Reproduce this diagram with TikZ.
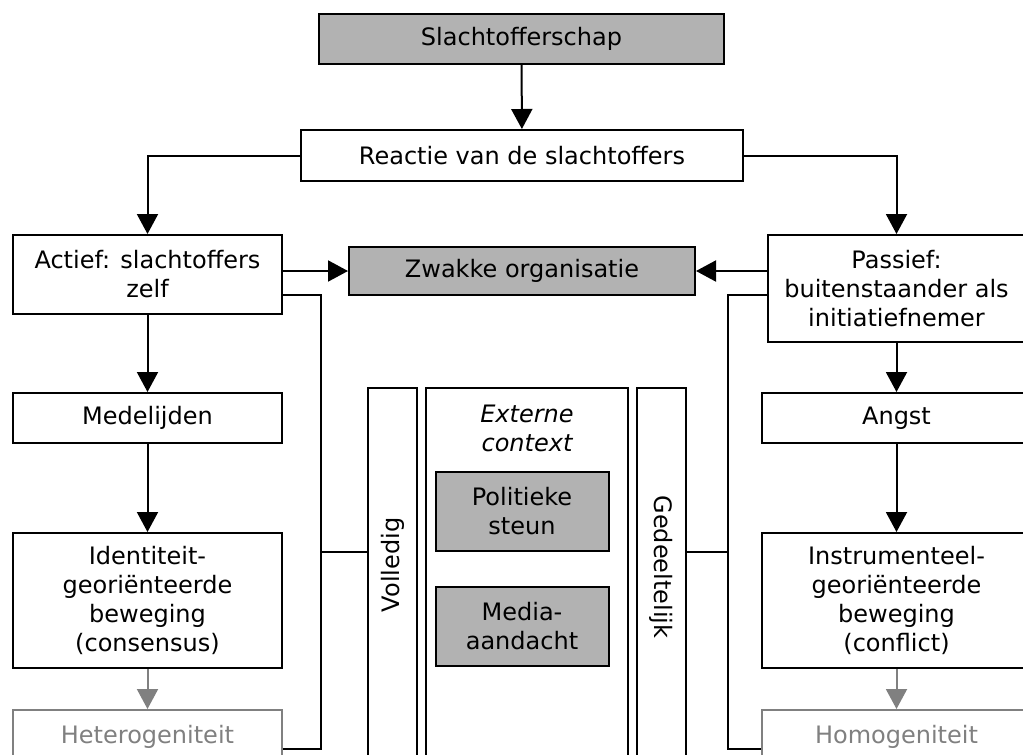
\documentclass[tikz,border=0pt]{standalone}
\usepackage{fontspec}
\setmainfont{DejaVu Sans}
\usetikzlibrary{arrows.meta}
\definecolor{fillgray}{HTML}{B2B2B2}
\definecolor{softgray}{HTML}{808080}
\tikzset{
  mybox/.style={draw, line width=2pt, inner sep=0pt, align=center, font=\fontsize{24}{29}\selectfont},
  shaded/.style={mybox, fill=fillgray},
  faded/.style={mybox, draw=softgray, text=softgray},
  lbl/.style={inner sep=0pt, align=center, font=\fontsize{24}{29}\selectfont},
  arr/.style={line width=2pt, -{Triangle[length=20pt,width=21pt]}},
  bus/.style={line width=2pt},
}
\begin{document}
\begin{tikzpicture}[x=1pt,y=-1pt]
\useasboundingbox (0,0) rectangle (1023,755);
\clip (0,0) rectangle (1023,755);
\fill[white] (0,0) rectangle (1023,755);

% top
\node[shaded, minimum width=405pt, minimum height=50pt] (slacht) at (521.5,39) {Slachtofferschap};
\node[mybox, minimum width=442pt, minimum height=51pt] (reactie) at (522,155.5) {Reactie van de slachtoffers};

% left column
\node[mybox, minimum width=269pt, minimum height=79pt] (actief) at (147.5,274.5) {Actief: slachtoffers\\zelf};
\node[mybox, minimum width=269pt, minimum height=50pt] (medel) at (147.5,418) {Medelijden};
\node[mybox, minimum width=269pt, minimum height=135pt] (ident) at (147.5,600.5) {Identiteit-\\georiënteerde\\beweging\\(consensus)};
\node[faded, minimum width=269pt, minimum height=54pt] (hetero) at (147.5,737) {Heterogeniteit};

% right column
\node[mybox, minimum width=258pt, minimum height=107pt] (passief) at (896.5,288.5) {Passief:\\buitenstaander als\\initiatiefnemer};
\node[mybox, minimum width=269pt, minimum height=50pt] (angst) at (896.5,418) {Angst};
\node[mybox, minimum width=269pt, minimum height=135pt] (instr) at (896.5,600.5) {Instrumenteel-\\georiënteerde\\beweging\\(conflict)};
\node[faded, minimum width=269pt, minimum height=54pt] (homo) at (896.5,737) {Homogeniteit};

% centre
\node[shaded, minimum width=346pt, minimum height=48pt] (zwakke) at (522,271) {Zwakke organisatie};
\node[mybox, minimum width=49pt, minimum height=372pt] (volledig) at (392.5,574) {};
\node[mybox, minimum width=202pt, minimum height=372pt] (externe) at (527,574) {};
\node[mybox, minimum width=49pt, minimum height=372pt] (gedeel) at (661.5,574) {};
\node[lbl, rotate=90] (volltext) at (392.5,565) {Volledig};
\node[lbl, rotate=-90] (gedtext) at (661.5,567) {Gedeeltelijk};
\node[lbl, font=\fontsize{24}{29}\selectfont\itshape] (exttext) at (527,428) {Externe\\context};
\node[shaded, minimum width=173pt, minimum height=79pt] (politiek) at (522,511) {Politieke\\steun};
\node[shaded, minimum width=173pt, minimum height=79pt] (media) at (522,626) {Media-\\aandacht};

% connectors
\draw[arr] (slacht) -- (reactie);
\draw[arr] (reactie.west) -| (actief.north);
\draw[arr] (reactie.east) -| (passief.north);
\draw[arr] (actief.east |- zwakke.west) -- (zwakke.west);
\draw[arr] (passief.west |- zwakke.east) -- (zwakke.east);
\draw[arr] (actief) -- (medel);
\draw[arr] (medel) -- (ident);
\draw[arr, softgray] (ident) -- (hetero);
\draw[arr] (passief) -- (angst);
\draw[arr] (angst) -- (instr);
\draw[arr, softgray] (instr) -- (homo);

% side bus lines
\coordinate (ltop) at (320.5,295);
\coordinate (lmid) at (320.5,552);
\coordinate (lbot) at (320.5,749);
\coordinate (rtop) at (728,295);
\coordinate (rmid) at (728,552);
\coordinate (rbot) at (728,749);
\draw[bus] (actief.east |- ltop) -- (ltop) -- (lbot) -- (hetero.east |- lbot);
\draw[bus] (lmid) -- (volledig.west |- lmid);
\draw[bus] (passief.west |- rtop) -- (rtop) -- (rbot) -- (homo.west |- rbot);
\draw[bus] (rmid) -- (gedeel.east |- rmid);
\end{tikzpicture}
\end{document}
